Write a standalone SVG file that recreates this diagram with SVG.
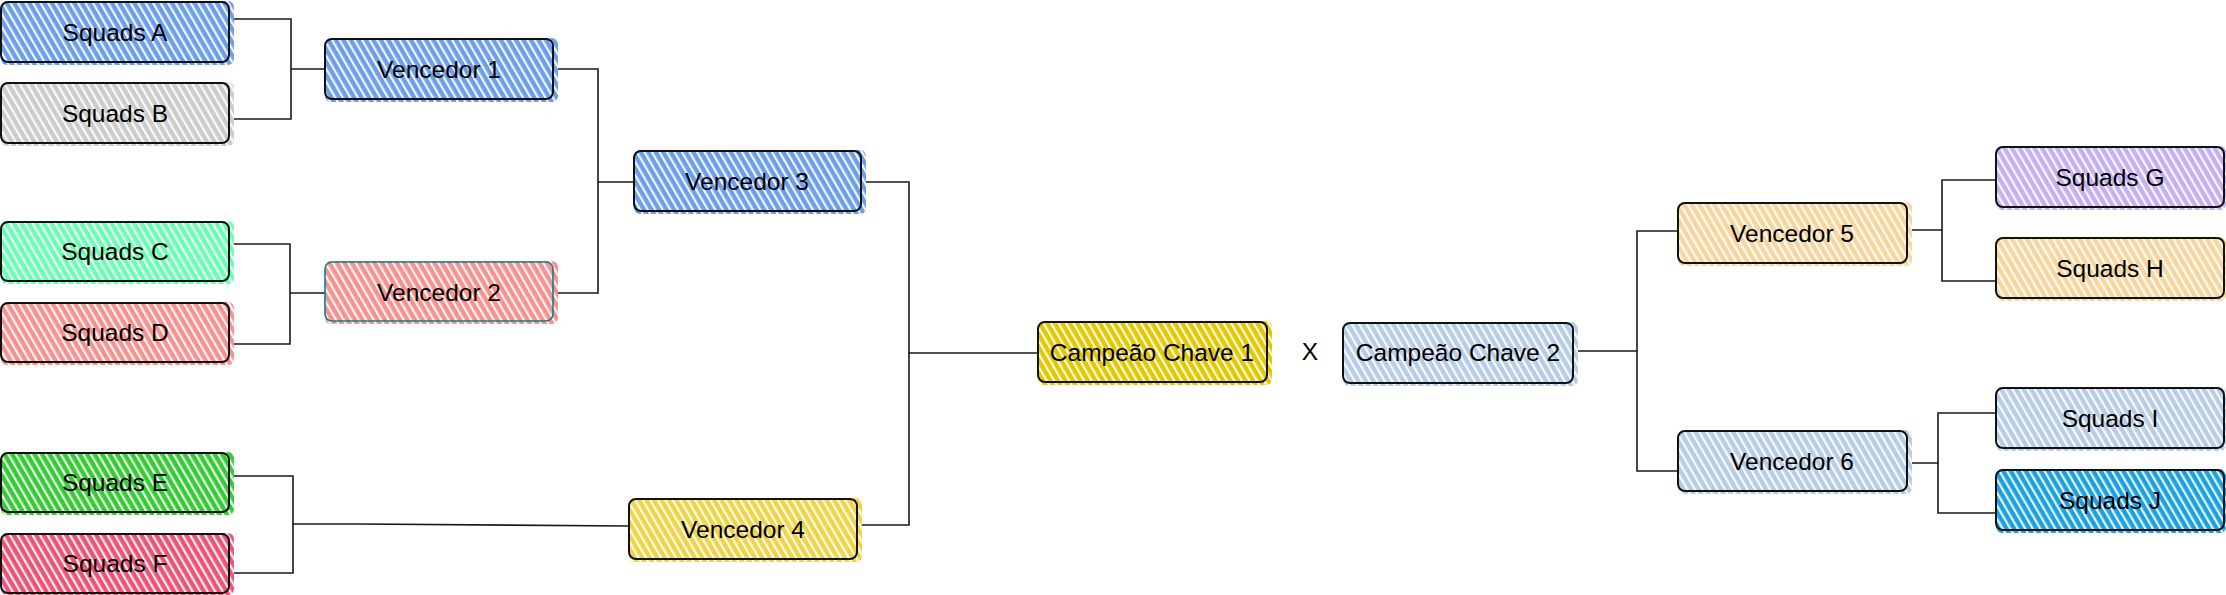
<svg xmlns="http://www.w3.org/2000/svg" width="2226" height="595" viewBox="0 0 2226 595">
<style>
.f{stroke:none}
.h{fill:url(#hatch);stroke:none}
.b{fill:none;stroke:#111;stroke-width:2}
.t{font-family:"Liberation Sans",Arial,sans-serif;font-size:24.5px;fill:#000;text-anchor:middle;dominant-baseline:central}
.c{fill:none;stroke:#1a1a1a;stroke-width:1.6}
</style>
<defs>
<pattern id="hatch" patternUnits="userSpaceOnUse" width="6.5" height="12" patternTransform="rotate(-30)">
<rect x="0" y="0" width="2.2" height="12" fill="#fff" fill-opacity="0.9"/>
</pattern>
</defs>
<rect width="2226" height="595" fill="#fff"/>
<g id="connectors">
<path class="c" d="M229,19 H291 V69 H325"/>
<path class="c" d="M229,119 H291 V69"/>
<path class="c" d="M229,244 H290 V293 H325"/>
<path class="c" d="M229,344 H290 V293"/>
<path class="c" d="M553,69 H598 V182 H634"/>
<path class="c" d="M553,293 H598 V182"/>
<path class="c" d="M229,476 H293 V524 H360 L629,526"/>
<path class="c" d="M229,573 H293 V524"/>
<path class="c" d="M861,182 H909 V353 H1038"/>
<path class="c" d="M857,525 H909 V353"/>
<path class="c" d="M1573,351 H1637 V231 H1678"/>
<path class="c" d="M1637,351 V471 H1678"/>
<path class="c" d="M1996,180 H1942 V230 H1907"/>
<path class="c" d="M1996,281 H1942 V230"/>
<path class="c" d="M1996,413 H1938 V463 H1907"/>
<path class="c" d="M1996,513 H1938 V463"/>
</g>
<g id="squadsA"><rect class="f" x="1" y="1" width="233" height="64" rx="6" fill="#6d9eeb"/><rect class="h" x="1" y="1" width="233" height="64" rx="6"/><rect class="b" x="1" y="2" width="228" height="60" rx="7"/><text class="t" x="115" y="32">Squads A</text></g>
<g id="squadsB"><rect class="f" x="1" y="82" width="233" height="64" rx="6" fill="#cccccc"/><rect class="h" x="1" y="82" width="233" height="64" rx="6"/><rect class="b" x="1" y="83" width="228" height="60" rx="7"/><text class="t" x="115" y="113">Squads B</text></g>
<g id="squadsC"><rect class="f" x="1" y="221" width="233" height="63" rx="6" fill="#66ffb3"/><rect class="h" x="1" y="221" width="233" height="63" rx="6"/><rect class="b" x="1" y="222" width="228" height="59" rx="7"/><text class="t" x="115" y="251">Squads C</text></g>
<g id="squadsD"><rect class="f" x="1" y="302" width="233" height="63" rx="6" fill="#f7918f"/><rect class="h" x="1" y="302" width="233" height="63" rx="6"/><rect class="b" x="1" y="303" width="228" height="59" rx="7"/><text class="t" x="115" y="332">Squads D</text></g>
<g id="squadsE"><rect class="f" x="1" y="452" width="233" height="63" rx="6" fill="#33cc33"/><rect class="h" x="1" y="452" width="233" height="63" rx="6"/><rect class="b" x="1" y="453" width="228" height="59" rx="7"/><text class="t" x="115" y="482">Squads E</text></g>
<g id="squadsF"><rect class="f" x="1" y="533" width="233" height="62" rx="6" fill="#ed5376"/><rect class="h" x="1" y="533" width="233" height="62" rx="6"/><rect class="b" x="1" y="534" width="228" height="59" rx="7"/><text class="t" x="115" y="563">Squads F</text></g>
<g id="vencedor1"><rect class="f" x="325" y="38" width="233" height="64" rx="6" fill="#6d9eeb"/><rect class="h" x="325" y="38" width="233" height="64" rx="6"/><rect class="b" x="325" y="39" width="228" height="60" rx="7"/><text class="t" x="439" y="69">Vencedor 1</text></g>
<g id="vencedor2"><rect class="f" x="325" y="261" width="233" height="63" rx="6" fill="#f7918f"/><rect class="h" x="325" y="261" width="233" height="63" rx="6"/><rect class="b" x="325" y="262" width="228" height="59" rx="7" style="stroke:#0e8088;stroke-width:1.6"/><text class="t" x="439" y="292">Vencedor 2</text></g>
<g id="vencedor3"><rect class="f" x="634" y="150" width="232" height="64" rx="6" fill="#6d9eeb"/><rect class="h" x="634" y="150" width="232" height="64" rx="6"/><rect class="b" x="634" y="151" width="227" height="60" rx="7"/><text class="t" x="747" y="181">Vencedor 3</text></g>
<g id="vencedor4"><rect class="f" x="629" y="498" width="233" height="64" rx="6" fill="#f0d447"/><rect class="h" x="629" y="498" width="233" height="64" rx="6"/><rect class="b" x="629" y="499" width="228" height="60" rx="7"/><text class="t" x="743" y="529">Vencedor 4</text></g>
<g id="campeao1"><rect class="f" x="1038" y="321" width="234" height="64" rx="6" fill="#e3c800"/><rect class="h" x="1038" y="321" width="234" height="64" rx="6"/><rect class="b" x="1038" y="322" width="229" height="60" rx="7"/><text class="t" x="1152" y="352">Campeão Chave 1</text></g>
<g id="x"><text class="t" x="1310" y="351">X</text></g>
<g id="campeao2"><rect class="f" x="1343" y="322" width="235" height="64" rx="6" fill="#b7cde6"/><rect class="h" x="1343" y="322" width="235" height="64" rx="6"/><rect class="b" x="1343" y="323" width="230" height="60" rx="7"/><text class="t" x="1458" y="352">Campeão Chave 2</text></g>
<g id="vencedor5"><rect class="f" x="1678" y="202" width="234" height="64" rx="6" fill="#f6d59e"/><rect class="h" x="1678" y="202" width="234" height="64" rx="6"/><rect class="b" x="1678" y="203" width="229" height="60" rx="7"/><text class="t" x="1792" y="233">Vencedor 5</text></g>
<g id="vencedor6"><rect class="f" x="1678" y="430" width="234" height="64" rx="6" fill="#b7cde6"/><rect class="h" x="1678" y="430" width="234" height="64" rx="6"/><rect class="b" x="1678" y="431" width="229" height="60" rx="7"/><text class="t" x="1792" y="461">Vencedor 6</text></g>
<g id="squadsG"><rect class="f" x="1996" y="146" width="230" height="64" rx="6" fill="#c6aef3"/><rect class="h" x="1996" y="146" width="230" height="64" rx="6"/><rect class="b" x="1996" y="147" width="228" height="60" rx="7"/><text class="t" x="2110" y="177">Squads G</text></g>
<g id="squadsH"><rect class="f" x="1996" y="237" width="230" height="64" rx="6" fill="#f6d59e"/><rect class="h" x="1996" y="237" width="230" height="64" rx="6"/><rect class="b" x="1996" y="238" width="228" height="60" rx="7"/><text class="t" x="2110" y="268">Squads H</text></g>
<g id="squadsI"><rect class="f" x="1996" y="387" width="230" height="64" rx="6" fill="#b7cde6"/><rect class="h" x="1996" y="387" width="230" height="64" rx="6"/><rect class="b" x="1996" y="388" width="228" height="60" rx="7"/><text class="t" x="2110" y="418">Squads I</text></g>
<g id="squadsJ"><rect class="f" x="1996" y="469" width="230" height="64" rx="6" fill="#1ba1e2"/><rect class="h" x="1996" y="469" width="230" height="64" rx="6"/><rect class="b" x="1996" y="470" width="228" height="60" rx="7"/><text class="t" x="2110" y="500">Squads J</text></g>
</svg>
